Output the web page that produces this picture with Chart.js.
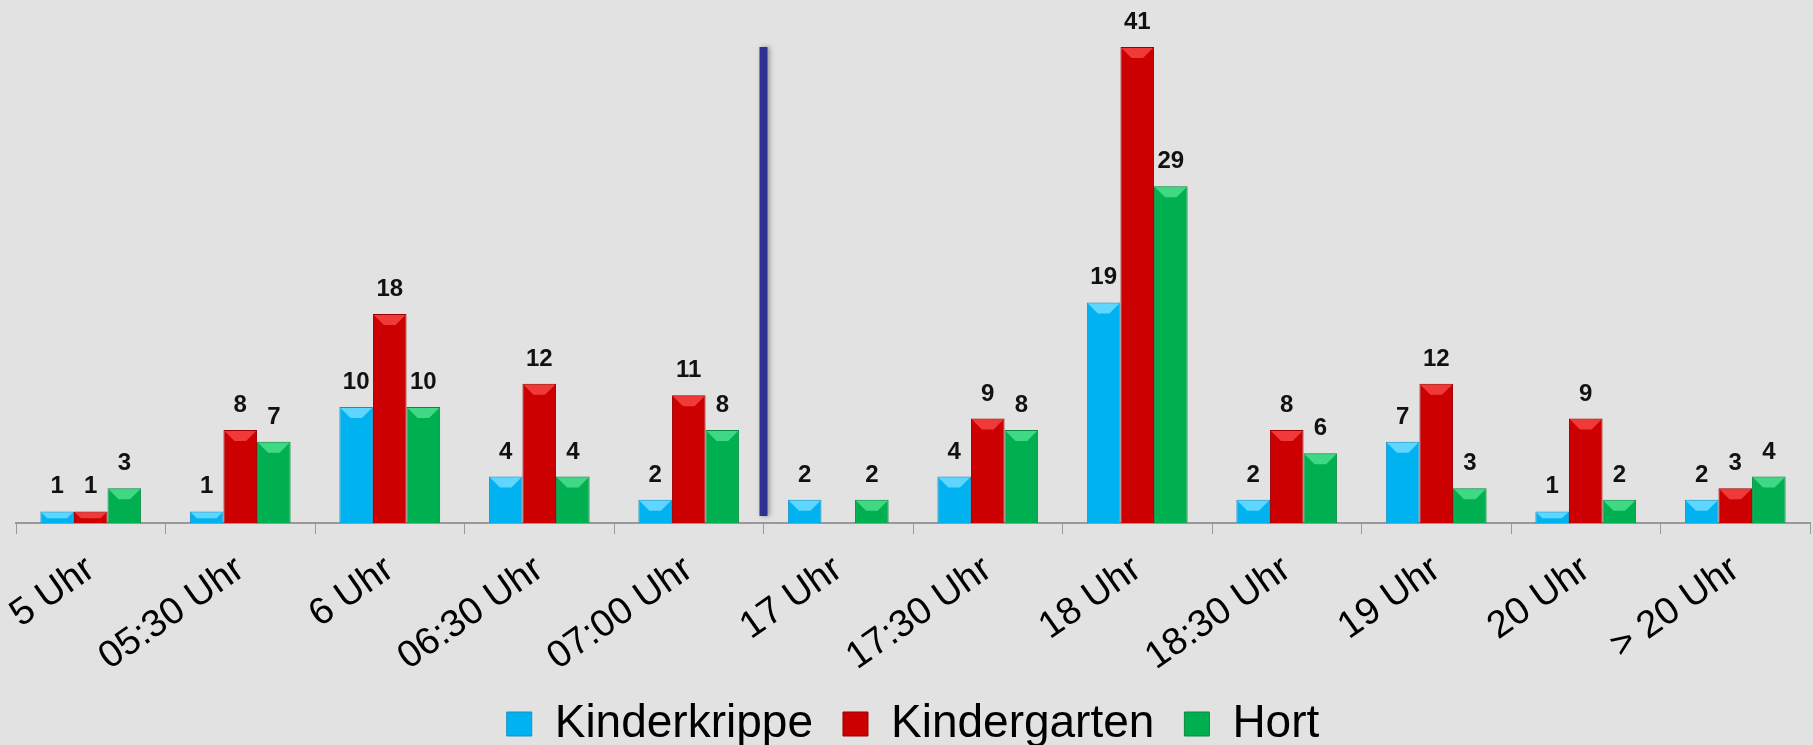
<!DOCTYPE html>
<html>
<head>
<meta charset="utf-8">
<script src="https://cdn.jsdelivr.net/npm/chart.js@4"></script>
<style>
  html, body { margin: 0; padding: 0; background: #e2e2e2; }
  #wrap { width: 1813px; height: 745px; position: relative; }
</style>
</head>
<body>
<div id="wrap"><canvas id="chart"></canvas></div>
<script>
// Daten
const categories = ['5 Uhr', '05:30 Uhr', '6 Uhr', '06:30 Uhr', '07:00 Uhr', '17 Uhr',
  '17:30 Uhr', '18 Uhr', '18:30 Uhr', '19 Uhr', '20 Uhr', '> 20 Uhr'];
const kinderkrippe = [1, 1, 10, 4, 2, 2, 4, 19, 2, 7, 1, 2];
const kindergarten = [1, 8, 18, 12, 11, 0, 9, 41, 8, 12, 9, 3];
const hort = [3, 7, 10, 4, 8, 2, 8, 29, 6, 3, 2, 4];
// Trennlinie zwischen Morgen und Abend (nach "07:00 Uhr")
const separatorAfter = 4;

const fillColors = ['#00b2ef', '#cc0000', '#00b050'];
const edgeColors = ['#1a8fbf', '#9a0000', '#08893f'];
const bevelColors = ['#5fd6ff', '#f03a3a', '#3fd884'];

// Abschrägung oben + Werte über den Balken + Trennlinie
const barLook = {
    id: 'barLook',
    afterDatasetsDraw(chart) {
        const ctx = chart.ctx;
        chart.data.datasets.forEach((ds, i) => {
            const meta = chart.getDatasetMeta(i);
            meta.data.forEach((bar, j) => {
                const v = ds.data[j];
                if (!v) return;
                const p = bar.getProps(['x', 'y', 'base', 'width'], true);
                const l = p.x - p.width / 2, r = p.x + p.width / 2;
                const b = Math.min(11, (p.base - p.y) * 0.6, p.width / 3);
                ctx.save();
                ctx.fillStyle = bevelColors[i];
                ctx.beginPath();
                ctx.moveTo(l + 1, p.y + 1);
                ctx.lineTo(r - 1, p.y + 1);
                ctx.lineTo(r - b, p.y + b);
                ctx.lineTo(l + b, p.y + b);
                ctx.closePath();
                ctx.fill();
                ctx.fillStyle = '#111';
                ctx.font = 'bold 24px "Liberation Sans", Arial, sans-serif';
                ctx.textAlign = 'center';
                ctx.textBaseline = 'alphabetic';
                ctx.fillText(v, p.x, p.y - 18);
                ctx.restore();
            });
        });

        const xs = chart.scales.x, ys = chart.scales.y;
        const sx = (xs.getPixelForValue(separatorAfter) + xs.getPixelForValue(separatorAfter + 1)) / 2;
        const top = chart.chartArea.top;
        const bottom = ys.getPixelForValue(0.6);
        ctx.save();
        ctx.shadowColor = 'rgba(0,0,0,0.35)';
        ctx.shadowBlur = 5;
        ctx.shadowOffsetX = 2;
        ctx.fillStyle = '#2e3192';
        ctx.fillRect(sx - 4, top, 8, bottom - top);
        ctx.restore();
    }
};

function makeSet(label, data, i) {
    return {
        label: label,
        data: data,
        backgroundColor: fillColors[i],
        borderColor: edgeColors[i],
        borderWidth: 1,
        borderSkipped: 'bottom',
        barPercentage: 1,
        categoryPercentage: 0.674
    };
}

new Chart(document.getElementById('chart'), {
    type: 'bar',
    data: {
        labels: categories,
        datasets: [
            makeSet('Kinderkrippe', kinderkrippe, 0),
            makeSet('Kindergarten', kindergarten, 1),
            makeSet('Hort', hort, 2)
        ]
    },
    options: {
        responsive: true,
        maintainAspectRatio: false,
        animation: false,
        layout: { padding: { top: 47, left: 16, right: 3, bottom: -12 } },
        plugins: {
            legend: {
                position: 'bottom',
                labels: {
                    color: '#000',
                    font: { size: 46, family: '"Liberation Sans", Arial, sans-serif' },
                    boxWidth: 25,
                    boxHeight: 24,
                    padding: 30
                }
            },
            tooltip: { enabled: false }
        },
        scales: {
            x: {
                offset: true,
                grid: {
                    offset: true,
                    drawOnChartArea: false,
                    drawTicks: true,
                    tickLength: 11,
                    color: '#999'
                },
                border: { display: true, color: '#999', width: 2 },
                ticks: {
                    color: '#000',
                    font: { size: 38, family: '"Liberation Sans", Arial, sans-serif' },
                    minRotation: 35,
                    maxRotation: 35,
                    autoSkip: false,
                    padding: 13
                },
                afterFit: (s) => { s.height = 148; }
            },
            y: {
                display: false,
                min: 0,
                max: 41
            }
        }
    },
    plugins: [barLook]
});
</script>
</body>
</html>
